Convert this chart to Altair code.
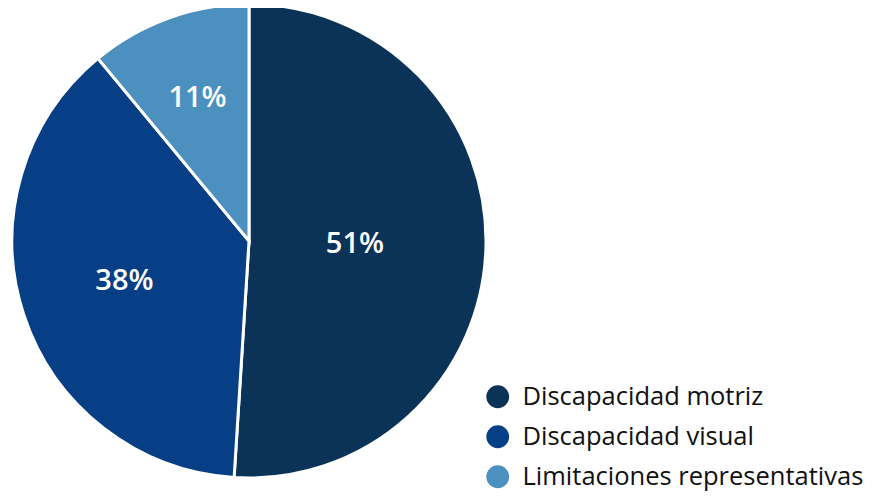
import altair as alt
import pandas as pd

categories = ["Discapacidad motriz", "Discapacidad visual", "Limitaciones representativas"]
values = [51, 38, 11]
labels = ["51%", "38%", "11%"]
colors = ["#0b3358", "#073f86", "#4b90bf"]

df = pd.DataFrame({"cat": categories, "val": values, "lab": labels, "order": [0, 1, 2]})

FONT = "Open Sans"
cx, cy, R = 241, 233, 237

base = alt.Chart(df).encode(
    theta=alt.Theta("val:Q", stack=True),
    order=alt.Order("order:Q"),
)

pie = base.mark_arc(outerRadius=R, stroke="white", strokeWidth=3).encode(
    color=alt.Color(
        "cat:N",
        scale=alt.Scale(domain=categories, range=colors),
        sort=categories,
        legend=alt.Legend(
            title=None,
            orient="none",
            legendX=477,
            legendY=376,
            symbolType="circle",
            symbolSize=520,
            symbolStrokeWidth=0,
            labelFont=FONT,
            labelFontSize=25.5,
            labelColor="#111111",
            labelOffset=12,
            rowPadding=13,
            labelLimit=600,
        ),
    ),
    x=alt.value(cx),
    y=alt.value(cy),
)

label_radius = {"51%": 106, "38%": 131, "11%": 152}
texts = []
for lab, r in label_radius.items():
    texts.append(
        base.mark_text(font=FONT, fontSize=29, color="white", fontWeight=600)
        .encode(text="lab:N", radius=alt.value(r), x=alt.value(cx), y=alt.value(cy),
                opacity=alt.condition(alt.datum.lab == lab, alt.value(1), alt.value(0)))
    )

chart = alt.layer(pie, *texts).properties(
    width=864, height=484, padding=0, autosize=alt.AutoSizeParams(type="none")
).configure_view(stroke=None)

chart.save("out.html", embed_options={"renderer": "svg", "actions": False})
